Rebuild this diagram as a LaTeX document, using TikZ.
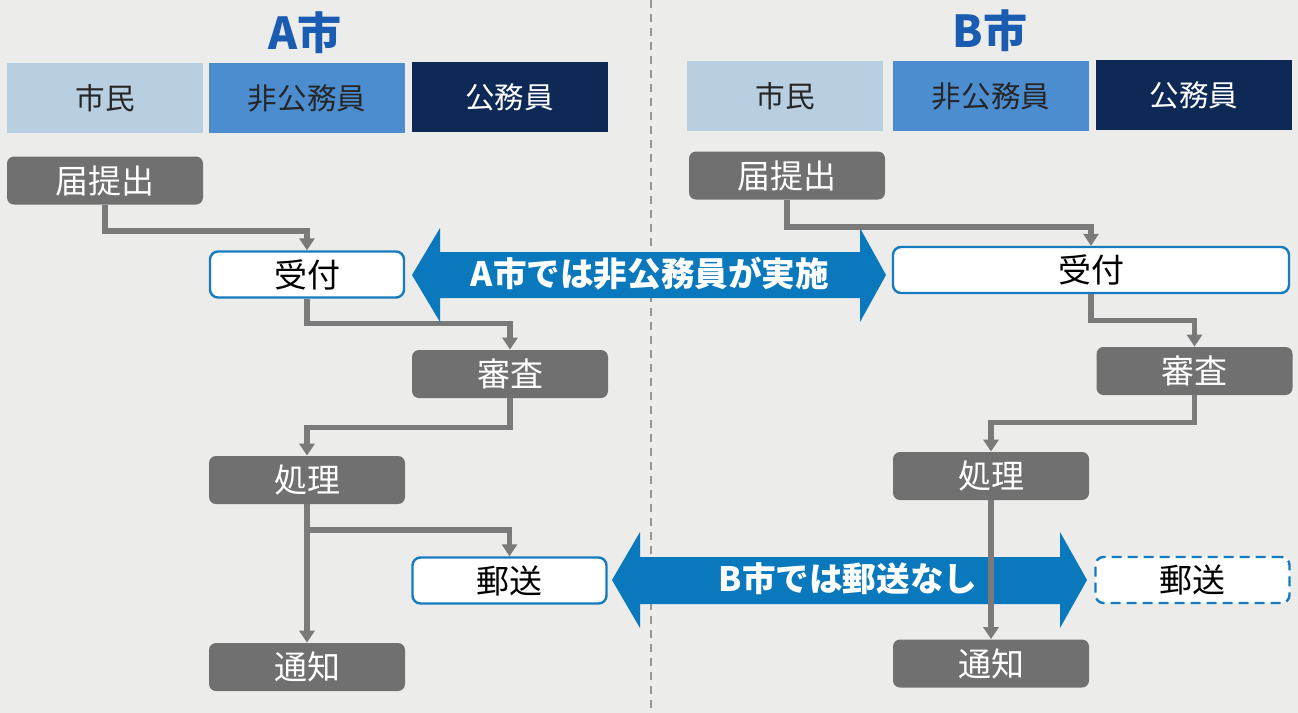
\documentclass[tikz,border=0pt]{standalone}
\usepackage{fontspec}
\newfontfamily\jp{Noto Sans CJK JP}
\usetikzlibrary{arrows.meta}
\definecolor{paper}{RGB}{236,236,234}
\definecolor{hlight}{RGB}{184,206,225}
\definecolor{hmid}{RGB}{76,141,208}
\definecolor{hdark}{RGB}{14,41,86}
\definecolor{boxgray}{RGB}{112,112,112}
\definecolor{linegray}{RGB}{122,122,122}
\definecolor{lineblue}{RGB}{22,122,190}
\definecolor{arrowblue}{RGB}{10,120,188}
\definecolor{titleblue}{RGB}{26,92,178}
\definecolor{divgray}{RGB}{150,150,150}
\begin{document}
\begin{tikzpicture}[x=0.5pt,y=-0.5pt,
  txt/.style={font=\jp\fontsize{16.5pt}{18pt}\selectfont},
  hdr/.style={font=\jp\fontsize{14.8pt}{16pt}\selectfont, minimum width=98pt, minimum height=35pt, inner sep=0pt},
  gbox/.style={txt, fill=boxgray, text=white, rounded corners=3.5pt, minimum width=98pt, minimum height=24pt, inner sep=0pt},
  wbox/.style={txt, draw=lineblue, line width=1.2pt, fill=white, text=black, rounded corners=4pt, minimum width=97pt, minimum height=23pt, inner sep=0pt},
  dbox/.style={wbox, dashed, dash pattern=on 5pt off 3pt},
  flow/.style={draw=linegray, line width=2.6pt, -{Triangle[width=7.5pt,length=6pt]}},
  ttl/.style={font=\jp\bfseries\fontsize{22pt}{24pt}\selectfont, text=titleblue},
  bigtxt/.style={font=\jp\bfseries\fontsize{16.8pt}{18pt}\selectfont, text=white},
]
\fill[paper] (0,0) rectangle (1298,713);
\useasboundingbox (0,0) rectangle (1298,713);
\draw[divgray, line width=1pt, dash pattern=on 4pt off 3pt] (651,0) -- (651,713);

% titles
\node[ttl] (ta) at (305,33) {A市};
\node[ttl] (tb) at (990,31) {B市};

% headers A
\node[hdr, fill=hlight, text=black!85] (ha1) at (105,98) {市民};
\node[hdr, fill=hmid, text=black!85] (ha2) at (307,98) {非公務員};
\node[hdr, fill=hdark, text=white] (ha3) at (509.5,97) {公務員};
% headers B
\node[hdr, fill=hlight, text=black!85] (hb1) at (785,96) {市民};
\node[hdr, fill=hmid, text=black!85] (hb2) at (991,96) {非公務員};
\node[hdr, fill=hdark, text=white] (hb3) at (1194,95) {公務員};

% flow A
\node[gbox] (a1) at (105,180.5) {届提出};
\node[wbox] (a2) at (307,274.5) {受付};
\node[gbox] (a3) at (510,374) {審査};
\node[gbox] (a4) at (307,480) {処理};
\node[wbox] (a5) at (509.5,580.5) {郵送};
\node[gbox] (a6) at (307,667) {通知};

% flow B
\node[gbox] (b1) at (787,175.5) {届提出};
\node[wbox, minimum width=198pt] (b2) at (1091,270) {受付};
\node[gbox] (b3) at (1194.5,371) {審査};
\node[gbox] (b4) at (991,476) {処理};
\node[dbox] (b5) at (1192.5,580) {郵送};
\node[gbox] (b6) at (991,663.5) {通知};

% connectors A
\draw[flow] (a1.south) -- ++(0,26) -| (a2.north);
\draw[flow] (a2.south) -- ++(0,25) -| (a3.north);
\draw[flow] (a3.south) -- ++(0,29) -| (a4.north);
\draw[flow] (a4.south) -- (a6.north);
\coordinate (br) at (307,530);
\draw[flow] (br) -| (a5.north);

% connectors B
\draw[flow] (b1.south) -- ++(0,27) -| (b2.north);
\draw[flow] (b2.south) -- ++(0,26) -| (b3.north);
\draw[flow] (b3.south) -- ++(0,27) -| (b4.north);

% big arrows
\fill[arrowblue] (412,275) -- (440,228) -- (440,252) -- (860,252) -- (860,228) -- (886,275) -- (860,322) -- (860,298) -- (440,298) -- (440,322) -- cycle;
\node[bigtxt] (la) at (650,274) {A市では非公務員が実施};
\fill[arrowblue] (612,580) -- (640,532) -- (640,557) -- (1060,557) -- (1060,532) -- (1087,580) -- (1060,628) -- (1060,604) -- (640,604) -- (640,628) -- cycle;
\node[bigtxt] (lb) at (848,579) {B市では郵送なし};

\draw[flow] (b4.south) -- (b6.north);
\end{tikzpicture}
\end{document}
